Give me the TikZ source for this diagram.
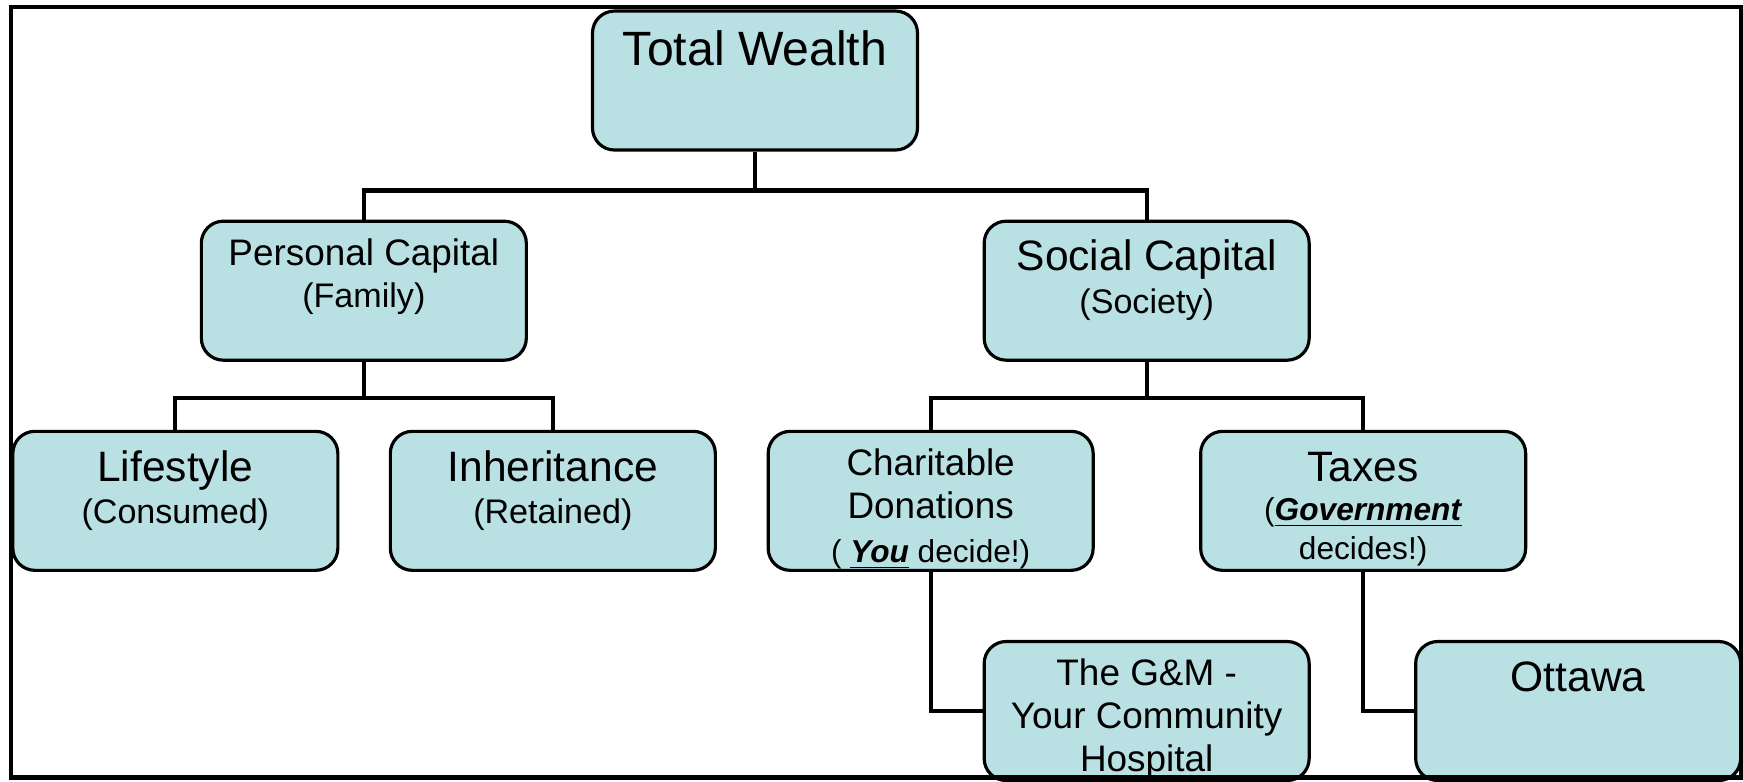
\documentclass[tikz,border=0pt]{standalone}
\usepackage{fontspec}
\setmainfont{Liberation Sans}
\usepackage{tikz}
\usetikzlibrary{positioning}

\definecolor{boxblue}{RGB}{185,224,227}

% font sizes of the box texts
\newcommand{\hugetxt}{\fontsize{13.7}{16.4}\selectfont}
\newcommand{\bigtxt}{\fontsize{12.1}{14.5}\selectfont}
\newcommand{\midtxt}{\fontsize{10.5}{12.2}\selectfont}
\newcommand{\smalltxt}{\fontsize{9.7}{12}\selectfont}
\newcommand{\tinytxt}{\fontsize{9}{12.5}\selectfont}
% text sits at the top of the box
\newcommand{\boxlines}[1]{\parbox[t][1.11cm][t]{3.1cm}{\centering #1}}

\begin{document}
\begin{tikzpicture}[node distance=0.68cm,
  wealth box/.style={rectangle,draw,rounded corners=0.22cm,fill=boxblue,
    line width=0.9pt,inner xsep=0.075cm,inner ysep=0.14cm},
  link/.style={line width=1.2pt}]

  \useasboundingbox (0,0) rectangle (17.43,-7.81);

  \node[wealth box] (total) at (7.55,-0.805)
    {\boxlines{\hugetxt\strut Total Wealth}};
  \node[wealth box] (personal) [below left=0.68cm and 0.63cm of total]
    {\boxlines{\midtxt\strut Personal Capital\\ \smalltxt(Family)}};
  \node[wealth box] (social) [below right=0.68cm and 0.635cm of total]
    {\boxlines{\bigtxt\strut Social Capital\\ \smalltxt(Society)}};

  \node[wealth box] (lifestyle) [below=of personal, xshift=-1.885cm]
    {\boxlines{\bigtxt\strut Lifestyle\\ \smalltxt(Consumed)}};
  \node[wealth box] (inherit) [below=of personal, xshift=1.89cm]
    {\boxlines{\bigtxt\strut Inheritance\\ \smalltxt(Retained)}};
  \node[wealth box] (charity) [below=of social, xshift=-2.16cm]
    {\boxlines{\midtxt\strut Charitable\\Donations\\ \tinytxt( \underline{\textbf{\textit{You}}} decide!)}};
  \node[wealth box] (taxes) [below=of social, xshift=2.165cm]
    {\boxlines{\bigtxt\strut Taxes\\[-1.4pt] \tinytxt(\underline{\textbf{\textit{Government}}}\\[-1.4pt]decides!)}};

  \node[wealth box] (hospital) [below=of charity, xshift=2.16cm]
    {\boxlines{\midtxt\strut The G\&M -\\Your Community\\Hospital}};
  \node[wealth box] (ottawa) [below=of taxes, xshift=2.15cm]
    {\boxlines{\bigtxt\strut Ottawa}};

  \draw[link] (total.south) -- ++(0,-0.39) -| (personal.north);
  \draw[link] (total.south) -- ++(0,-0.39) -| (social.north);
  \draw[link] (personal.south) -- ++(0,-0.36) -| (lifestyle.north);
  \draw[link] (personal.south) -- ++(0,-0.36) -| (inherit.north);
  \draw[link] (social.south) -- ++(0,-0.36) -| (charity.north);
  \draw[link] (social.south) -- ++(0,-0.36) -| (taxes.north);
  \draw[link] (charity.south) |- (hospital.west);
  \draw[link] (taxes.south) |- (ottawa.west);

  % outer frame
  \draw[line width=1.4pt] (0.11,-0.07) rectangle (17.41,-7.775);

\end{tikzpicture}
\end{document}
